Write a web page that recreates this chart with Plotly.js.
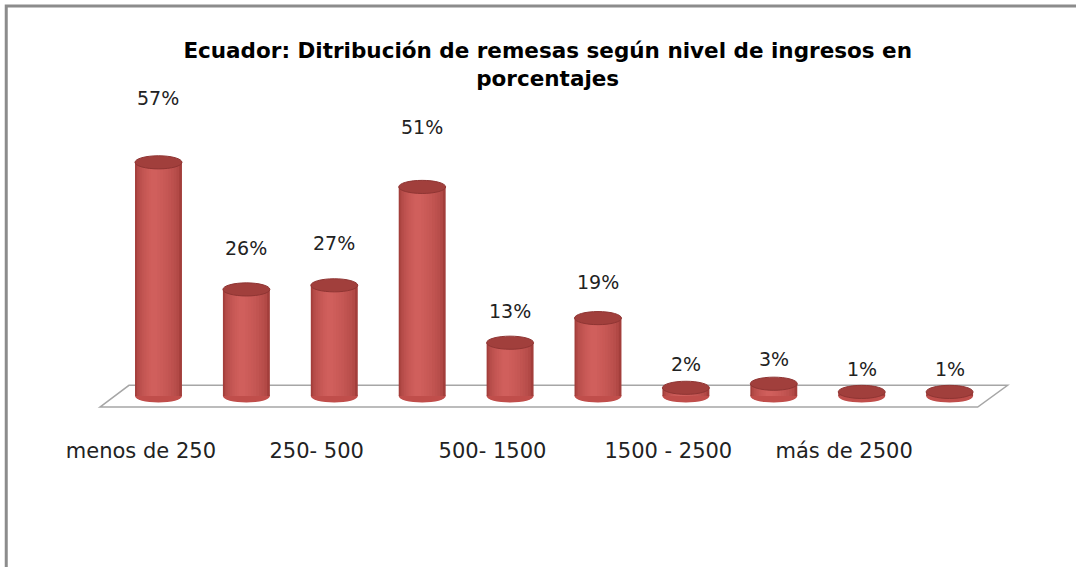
<!DOCTYPE html>
<html><head><meta charset="utf-8">
<script src="https://cdn.plot.ly/plotly-3.0.1.min.js"></script>
<style>html,body{margin:0;padding:0;background:#fff}#chart{width:1076px;height:567px}</style>
</head><body><div id="chart"></div>
<script>
// ---- data ----
const categories = ["menos de 250", "250- 500", "500- 1500", "1500 - 2500", "más de 2500"];
const values = [57, 26, 27, 51, 13, 19, 2, 3, 1, 1];
const valueLabels = values.map(v => v + "%");
const titleText = "Ecuador: Ditribución de remesas según nivel de ingresos en<br>porcentajes";

// ---- build ----
const xs = values.map((v, i) => i);
const W = 0.534;           // cylinder width (x units)
const RY = 1.6;            // ellipse half height (y units)
const font = "DejaVu Sans, sans-serif";

function mix(a, b, t) {
  const pa = [1, 3, 5].map(j => parseInt(a.substr(j, 2), 16));
  const pb = [1, 3, 5].map(j => parseInt(b.substr(j, 2), 16));
  return "rgb(" + pa.map((v, j) => Math.round(v + (pb[j] - v) * t)).join(",") + ")";
}
function layer(width, offset, color) {
  return {
    type: "bar", x: xs, y: values, width: width, offset: offset,
    marker: {color: color, line: {width: 0}}, hoverinfo: "skip", showlegend: false
  };
}
const traces = [];
const N = 10;
for (let k = 0; k < N; k++) {
  const t = k / (N - 1);
  const w = W * (1 - 0.85 * t);
  const c = -0.05 * t;
  traces.push(layer(w, c - w / 2, mix("#a33e3b", "#d05f5c", Math.sqrt(t))));
}

const shapes = [];
// floor
shapes.push({
  type: "path", xref: "x", yref: "y", layer: "below",
  path: "M -0.666,-2.7 L -0.336,2.6 L 9.66,2.6 L 9.32,-2.7 Z",
  fillcolor: "#ffffff", line: {color: "#a6a6a6", width: 1.5}
});
// bottom ellipses
xs.forEach((x) => {
  shapes.push({
    type: "circle", xref: "x", yref: "y", layer: "below",
    x0: x - W / 2, x1: x + W / 2, y0: -RY, y1: RY,
    fillcolor: "#c04e4b", line: {width: 0}
  });
});
// top ellipses
xs.forEach((x, i) => {
  shapes.push({
    type: "circle", xref: "x", yref: "y", layer: "above",
    x0: x - W / 2, x1: x + W / 2, y0: values[i] - RY, y1: values[i] + RY,
    fillcolor: "#a13f3c", line: {color: "#8f3533", width: 1}
  });
});
// outer frame (left + top)
shapes.push({
  type: "path", xref: "paper", yref: "paper", layer: "above",
  path: "M 0.0058,-0.33 L 0.0058,0.986 L 1.01,0.986",
  line: {color: "#8c8c8c", width: 3}
});

const annotations = values.map((v, i) => ({
  x: xs[i], y: v * 1.18 + 5.5, xref: "x", yref: "y",
  text: valueLabels[i], showarrow: false, xanchor: "center", yanchor: "middle",
  font: {family: font, size: 19, color: "#222"}
}));

const layout = {
  width: 1076, height: 567,
  margin: {l: 0, r: 0, t: 0, b: 137, pad: 0},
  paper_bgcolor: "#fff", plot_bgcolor: "rgba(0,0,0,0)",
  barmode: "overlay",
  title: {
    text: titleText, x: 0.509, xref: "container", xanchor: "center",
    y: 0.898, yref: "container", yanchor: "middle",
    font: {family: font, size: 21.5, color: "#000", weight: "bold"}
  },
  xaxis: {
    range: [-1.803, 10.438], showgrid: false, zeroline: false, showline: false,
    ticks: "", tickvals: categories.map((c, k) => 2 * k - 0.2), ticktext: categories,
    ticklabelstandoff: 6,
    tickfont: {family: font, size: 21, color: "#222"}, fixedrange: true
  },
  yaxis: {range: [-8.29, 96.59], visible: false, fixedrange: true},
  shapes: shapes, annotations: annotations, showlegend: false
};
Plotly.newPlot("chart", traces, layout, {displayModeBar: false, staticPlot: true});
</script></body></html>
